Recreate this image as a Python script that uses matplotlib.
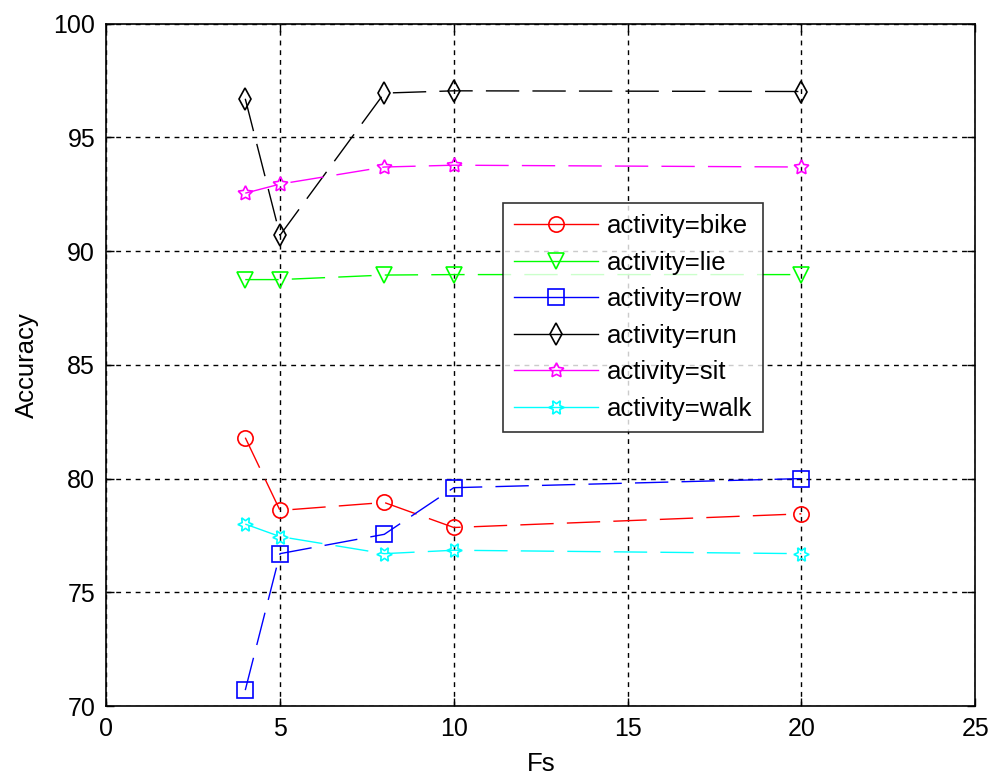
import numpy as np
import matplotlib
matplotlib.use("Agg")
import matplotlib.pyplot as plt

plt.rcParams['font.family'] = ['Liberation Sans', 'DejaVu Sans']

# sampling frequencies
fs = [4, 5, 8, 10, 20]

# accuracy per activity
bike = [81.8, 78.6, 78.95, 77.85, 78.45]
lie = [88.75, 88.75, 88.95, 88.97, 88.97]
row = [70.7, 76.7, 77.55, 79.6, 80.0]
run = [96.7, 90.7, 96.95, 97.05, 97.02]
sit = [92.55, 92.95, 93.7, 93.78, 93.7]
walk = [78.0, 77.45, 76.7, 76.85, 76.7]

series = [
    ("activity=bike", bike, "#ff0000", "o"),
    ("activity=lie", lie, "#00ff00", "v"),
    ("activity=row", row, "#0000ff", "s"),
    ("activity=run", run, "#000000", "d"),
    ("activity=sit", sit, "#ff00ff", (5, 1, 0)),
    ("activity=walk", walk, "#00ffff", (6, 1, 90)),
]

fig = plt.figure(figsize=(9.93, 7.78), dpi=100)
ax = fig.add_axes([0.107, 0.0925, 0.875, 0.877])

for name, vals, col, mk in series:
    ax.plot(fs, vals, color=col, marker=mk, markersize=11,
            markerfacecolor="none", markeredgecolor=col, markeredgewidth=1.2,
            linewidth=1.0, linestyle=(0, (24, 9.5)), label=name)

ax.set_xlim(0, 25)
ax.set_ylim(70, 100)
ax.set_xticks([0, 5, 10, 15, 20, 25])
ax.set_yticks([70, 75, 80, 85, 90, 95, 100])

ax.grid(True, color="black", linestyle=(0, (3.5, 3.5)), linewidth=1.0)
ax.tick_params(direction="in", top=True, right=True, length=6, width=1,
               labelsize=18, pad=8)
for sp in ax.spines.values():
    sp.set_linewidth(1.2)

ax.set_xlabel("Fs", fontsize=18.5, labelpad=8)
ax.set_ylabel("Accuracy", fontsize=18.5, labelpad=10)

leg = ax.legend(loc="upper left", bbox_to_anchor=(0.4565, 0.737),
                borderaxespad=0, fontsize=18.5, handlelength=3.27,
                handletextpad=0.36, frameon=True, fancybox=False,
                edgecolor="black", labelspacing=0.49, borderpad=0.42)
leg.get_frame().set_linewidth(1.2)
for h in leg.get_lines():
    h.set_linestyle("-")

fig.savefig("out.png", dpi=100)
